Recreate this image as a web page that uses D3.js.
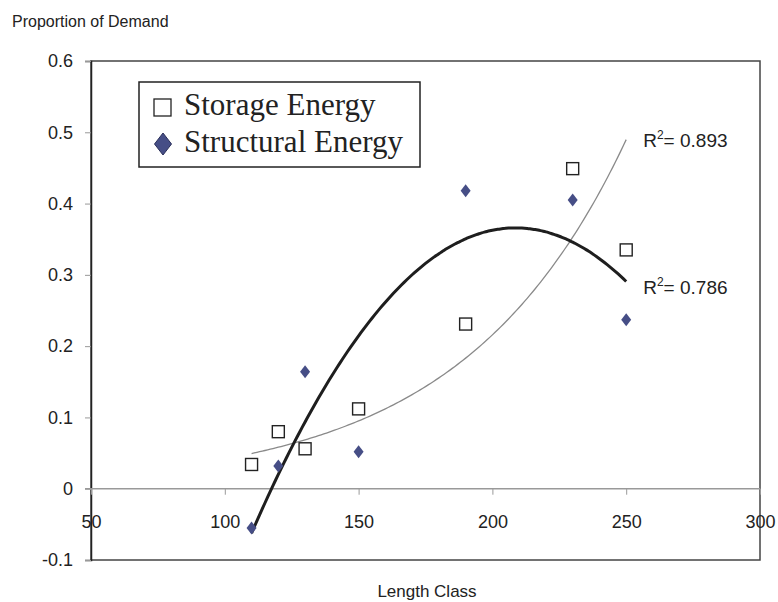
<!DOCTYPE html>
<html>
<head>
<meta charset="utf-8">
<script src="https://cdn.jsdelivr.net/npm/d3@7"></script>
<style>
    body { margin: 0; background: #fff; }
    text { font-family: "Liberation Sans", Arial, sans-serif; fill: #222; }
    .legendText { font-family: "Liberation Serif", "Times New Roman", serif; }
</style>
</head>
<body>
<div id="chart"></div>
<script>
// Length classes and the two series
var lengthClass = [110, 120, 130, 150, 190, 230, 250];
var storageEnergy = [0.034, 0.080, 0.056, 0.112, 0.231, 0.449, 0.335];
var structuralEnergy = [-0.055, 0.032, 0.164, 0.052, 0.418, 0.405, 0.237];

var xTicks = [50, 100, 150, 200, 250, 300];
var yTicks = [-0.1, 0, 0.1, 0.2, 0.3, 0.4, 0.5, 0.6];
var seriesNames = ["Storage Energy", "Structural Energy"];
var rSquared = ["0.893", "0.786"];

function init() {
    const w = 778;
    const h = 602;

    var svg = d3.select("#chart").append("svg").attr("width", w).attr("height", h);

    // Scales
    var xScale = d3.scaleLinear().domain([50, 300]).range([91, 760]);
    var yScale = d3.scaleLinear().domain([-0.1, 0.6]).range([560, 61]);

    // Plot area frame
    svg.append("rect")
        .attr("x", xScale(50))
        .attr("y", yScale(0.6))
        .attr("width", xScale(300) - xScale(50))
        .attr("height", yScale(-0.1) - yScale(0.6))
        .attr("fill", "none")
        .attr("stroke", "#444")
        .attr("stroke-width", 1.5);

    // Y axis
    var yAxis = d3.axisLeft(yScale)
        .tickValues(yTicks)
        .tickSize(6)
        .tickPadding(12)
        .tickFormat((d) => { return d3.format("~g")(d).replace("\u2212", "-"); });

    var gy = svg.append("g")
        .attr("transform", "translate(" + xScale(50) + ",0)")
        .call(yAxis);
    gy.select(".domain").attr("stroke", "#222").attr("stroke-width", 1.5);
    gy.selectAll(".tick line").attr("stroke", "#999");
    gy.selectAll(".tick text")
        .attr("font-size", 18)
        .attr("fill", "#222")
        .style("font-family", "'Liberation Sans', Arial, sans-serif");

    // X axis sits on zero, labels pushed down
    var xAxis = d3.axisBottom(xScale)
        .tickValues(xTicks)
        .tickSize(6)
        .tickPadding(21)
        .tickFormat(d3.format("d"));

    var gx = svg.append("g")
        .attr("transform", "translate(0," + yScale(0) + ")")
        .call(xAxis);
    gx.select(".domain").remove();
    gx.selectAll(".tick line").attr("stroke", "#999");
    gx.selectAll(".tick text")
        .attr("font-size", 18)
        .attr("fill", "#222")
        .style("font-family", "'Liberation Sans', Arial, sans-serif");

    svg.append("line")
        .attr("x1", xScale(50) - 6)
        .attr("x2", xScale(300))
        .attr("y1", yScale(0))
        .attr("y2", yScale(0))
        .attr("stroke", "#999")
        .attr("stroke-width", 1.5);

    // Axis titles
    svg.append("text")
        .attr("x", 12)
        .attr("y", 27)
        .attr("font-size", 16)
        .text("Proportion of Demand");

    svg.append("text")
        .attr("x", 427)
        .attr("y", 597)
        .attr("text-anchor", "middle")
        .attr("font-size", 17)
        .text("Length Class");

    // Trendlines, fitted from the data like a spreadsheet does
    var dataset = lengthClass.map((d, i) => {
        return { x: d, storage: storageEnergy[i], structural: structuralEnergy[i] };
    });

    var expFit = fitExponential(lengthClass, storageEnergy);
    var polyFit = fitPolynomial(lengthClass, structuralEnergy, 2);

    var xs = d3.range(110, 250.5, 1);
    var line = d3.line()
        .x((d) => { return xScale(d[0]); })
        .y((d) => { return yScale(d[1]); })
        .curve(d3.curveMonotoneX);

    svg.append("path")
        .datum(xs.map((x) => [x, expFit(x)]))
        .attr("d", line)
        .attr("fill", "none")
        .attr("stroke", "#8a8a8a")
        .attr("stroke-width", 1.3);

    svg.append("path")
        .datum(xs.map((x) => [x, polyFit(x)]))
        .attr("d", line)
        .attr("fill", "none")
        .attr("stroke", "#1e1e1e")
        .attr("stroke-width", 3);

    // Points
    svg.selectAll(".storage")
        .data(dataset)
        .enter()
        .append("rect")
        .attr("class", "storage")
        .attr("x", (d) => { return xScale(d.x) - 6; })
        .attr("y", (d) => { return yScale(d.storage) - 6; })
        .attr("width", 12)
        .attr("height", 12)
        .attr("fill", "#fff")
        .attr("stroke", "#222")
        .attr("stroke-width", 1.4);

    svg.selectAll(".structural")
        .data(dataset)
        .enter()
        .append("path")
        .attr("class", "structural")
        .attr("transform", (d) => { return "translate(" + xScale(d.x) + "," + yScale(d.structural) + ")"; })
        .attr("d", "M0,-6.5L5,0L0,6.5L-5,0Z")
        .attr("fill", "#464e86");

    // R squared labels, placed at the end of each trendline
    var rLabels = [
        { y: expFit(250), dy: 7, text: rSquared[0] },
        { y: polyFit(250), dy: 13, text: rSquared[1] }
    ];
    rLabels.forEach((r) => {
        var t = svg.append("text")
            .attr("x", xScale(250) + 17)
            .attr("y", yScale(r.y) + r.dy)
            .attr("font-size", 19);
        t.append("tspan").text("R");
        t.append("tspan").attr("font-size", 12).attr("dy", -8).text("2");
        t.append("tspan").attr("dy", 8).text("= " + r.text);
    });

    // Legend
    var legend = svg.append("g");
    legend.append("rect")
        .attr("x", 139)
        .attr("y", 82)
        .attr("width", 281)
        .attr("height", 85)
        .attr("fill", "#fff")
        .attr("stroke", "#222")
        .attr("stroke-width", 1.5);

    legend.append("rect")
        .attr("x", 154)
        .attr("y", 99)
        .attr("width", 17)
        .attr("height", 17)
        .attr("fill", "#fff")
        .attr("stroke", "#222")
        .attr("stroke-width", 1.3);

    legend.append("path")
        .attr("transform", "translate(163,144)")
        .attr("d", "M0,-11L8.5,0L0,11L-8.5,0Z")
        .attr("fill", "#464e86")
        .attr("stroke", "#2a2f5a")
        .attr("stroke-width", 1);

    legend.selectAll(".legendText")
        .data(seriesNames)
        .enter()
        .append("text")
        .attr("class", "legendText")
        .attr("x", 184)
        .attr("y", (d, i) => { return 115 + i * 37; })
        .attr("font-size", 31)
        .text((d) => { return d; });
}

// y = a * e^(b x) by least squares on ln y
function fitExponential(xs, ys) {
    var ly = ys.map((y) => Math.log(y));
    var mx = d3.mean(xs), my = d3.mean(ly);
    var sxy = d3.sum(xs, (x, i) => (x - mx) * (ly[i] - my));
    var sxx = d3.sum(xs, (x) => (x - mx) * (x - mx));
    var b = sxy / sxx;
    var a = Math.exp(my - b * mx);
    return (x) => a * Math.exp(b * x);
}

// polynomial least squares, normal equations on scaled x
function fitPolynomial(xs, ys, order) {
    var c = d3.mean(xs), s = 100;
    var u = xs.map((x) => (x - c) / s);
    var n = order + 1;
    var A = [], B = [];
    for (var r = 0; r < n; r++) {
        A.push([]);
        for (var k = 0; k < n; k++) {
            A[r].push(d3.sum(u, (v) => Math.pow(v, r + k)));
        }
        B.push(d3.sum(u, (v, i) => ys[i] * Math.pow(v, r)));
    }
    // gaussian elimination
    for (var p = 0; p < n; p++) {
        for (var q = p + 1; q < n; q++) {
            var f = A[q][p] / A[p][p];
            for (var k2 = p; k2 < n; k2++) A[q][k2] -= f * A[p][k2];
            B[q] -= f * B[p];
        }
    }
    var coef = new Array(n).fill(0);
    for (var p2 = n - 1; p2 >= 0; p2--) {
        var sum = B[p2];
        for (var k3 = p2 + 1; k3 < n; k3++) sum -= A[p2][k3] * coef[k3];
        coef[p2] = sum / A[p2][p2];
    }
    return (x) => {
        var v = (x - c) / s;
        return d3.sum(coef, (cc, i) => cc * Math.pow(v, i));
    };
}

window.onload = init();
</script>
</body>
</html>
